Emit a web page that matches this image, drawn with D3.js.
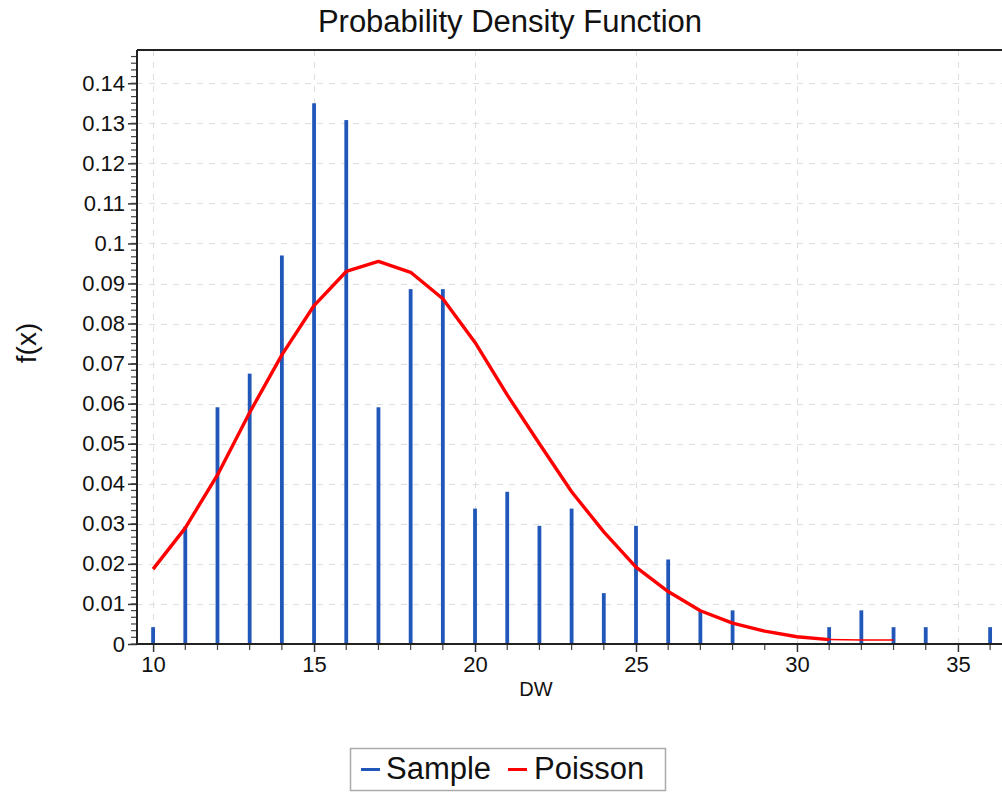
<!DOCTYPE html>
<html>
<head>
<meta charset="utf-8">
<script src="https://cdn.jsdelivr.net/npm/d3@7"></script>
<style>
  html, body { margin: 0; padding: 0; background: #fff; }
  svg { display: block; font-family: "Liberation Sans", Arial, sans-serif; }
</style>
</head>
<body>
<svg id="chart" width="1002" height="792"></svg>
<script>
// Observed relative frequencies of DW (sample) and fitted Poisson density
const sampleX = [10, 11, 12, 13, 14, 15, 16, 17, 18, 19, 20, 21, 22, 23, 24, 25, 26, 27, 28, 31, 32, 33, 34, 36];
const sampleY = [0.0042, 0.0293, 0.0591, 0.0675, 0.0970, 0.1350, 0.1308, 0.0591, 0.0886, 0.0886,
                 0.0338, 0.0380, 0.0295, 0.0338, 0.0127, 0.0295, 0.0211, 0.0084, 0.0084,
                 0.0042, 0.0084, 0.0042, 0.0042, 0.0042];

const poissonX = [10, 11, 12, 13, 14, 15, 16, 17, 18, 19, 20, 21, 22, 23, 24, 25, 26, 27, 28, 29, 30, 31, 32, 33];
const poissonY = [0.0187, 0.0290, 0.0422, 0.0578, 0.0722, 0.0845, 0.0930, 0.0955, 0.0928, 0.0862,
                  0.0753, 0.0622, 0.0500, 0.0380, 0.0280, 0.0192, 0.0131, 0.0083, 0.0052, 0.0032,
                  0.0018, 0.0011, 0.0010, 0.0010];

const xMajorTicks = [10, 15, 20, 25, 30, 35];
const yMajorTicks = [0, 0.01, 0.02, 0.03, 0.04, 0.05, 0.06, 0.07, 0.08, 0.09, 0.10, 0.11, 0.12, 0.13, 0.14];

const titleText = "Probability Density Function";
const xTitle = "DW";
const yTitle = "f(x)";
const legendItems = [
  { name: "Sample", color: "#2157b8" },
  { name: "Poisson", color: "#ff0000" }
];

const svg = d3.select("#chart");
const plot = { left: 137, right: 1003, top: 50, bottom: 644 };

const x = d3.scaleLinear().domain([9.5, 36.4]).range([plot.left, plot.right]);
const y = d3.scaleLinear().domain([0, 0.1483]).range([plot.bottom, plot.top]);

const fmtY = v => String(+v.toFixed(2));

// dashed grid
const grid = svg.append("g").attr("stroke", "#dedede").attr("stroke-width", 1)
  .attr("stroke-dasharray", "6,6");
grid.selectAll("line.h").data(yMajorTicks.filter(v => v > 0)).join("line")
  .attr("class", "h")
  .attr("x1", plot.left).attr("x2", plot.right)
  .attr("y1", d => Math.round(y(d)) + 0.5).attr("y2", d => Math.round(y(d)) + 0.5);
grid.selectAll("line.v").data(xMajorTicks).join("line")
  .attr("class", "v")
  .attr("y1", plot.top).attr("y2", plot.bottom)
  .attr("x1", d => Math.round(x(d)) + 0.5).attr("x2", d => Math.round(x(d)) + 0.5);

// sample bars
svg.append("g").selectAll("rect").data(sampleX.map((k, i) => [k, sampleY[i]])).join("rect")
  .attr("x", d => x(d[0]) - 1.9)
  .attr("width", 3.8)
  .attr("y", d => y(d[1]))
  .attr("height", d => y(0) - y(d[1]) - 1)
  .attr("fill", legendItems[0].color);

// Poisson line: heavy stroke over the main body, hairline across the flat tail
const poissonPts = poissonX.map((k, i) => [k, poissonY[i]]);
const tailStart = poissonX.indexOf(31);
const line = d3.line().x(d => x(d[0])).y(d => y(d[1]));
svg.append("path")
  .datum(poissonPts.slice(tailStart))
  .attr("d", line)
  .attr("fill", "none")
  .attr("stroke", legendItems[1].color)
  .attr("stroke-width", 1.5);
svg.append("path")
  .datum(poissonPts.slice(0, tailStart + 1))
  .attr("d", line)
  .attr("fill", "none")
  .attr("stroke", legendItems[1].color)
  .attr("stroke-width", 3.4)
  .attr("stroke-linejoin", "round");

// Y axis with minor ticks
const yMinor = d3.range(0, 89).map(i => i * 0.01 / 6).filter(v => v <= 0.1483);
const yAxis = d3.axisLeft(y).tickValues(yMajorTicks).tickFormat(fmtY).tickSize(9).tickPadding(3);
const yAxisG = svg.append("g").attr("transform", `translate(${plot.left},0)`).call(yAxis);
yAxisG.select(".domain").remove();
yAxisG.selectAll(".tick line").attr("stroke", "#333").attr("stroke-width", 1.5);
yAxisG.selectAll(".tick text").attr("font-size", 22).attr("fill", "#111")
  .attr("font-family", "Liberation Sans, Arial, sans-serif");
svg.append("g").selectAll("line").data(yMinor).join("line")
  .attr("x1", plot.left - 6).attr("x2", plot.left)
  .attr("y1", d => y(d)).attr("y2", d => y(d))
  .attr("stroke", "#444").attr("stroke-width", 1.2);

// X axis with minor ticks
const xAxis = d3.axisBottom(x).tickValues(xMajorTicks).tickFormat(d3.format("d")).tickSize(8).tickPadding(4);
const xAxisG = svg.append("g").attr("transform", `translate(0,${plot.bottom})`).call(xAxis);
xAxisG.select(".domain").remove();
xAxisG.selectAll(".tick line").attr("stroke", "#333").attr("stroke-width", 1.5);
xAxisG.selectAll(".tick text").attr("font-size", 22).attr("fill", "#111")
  .attr("font-family", "Liberation Sans, Arial, sans-serif");
svg.append("g").selectAll("line").data(d3.range(10, 37).filter(v => v % 5 !== 0)).join("line")
  .attr("x1", d => x(d)).attr("x2", d => x(d))
  .attr("y1", plot.bottom).attr("y2", plot.bottom + 6)
  .attr("stroke", "#444").attr("stroke-width", 1.2);

// frame: left, top and bottom edges
const frame = svg.append("g").attr("stroke", "#222").attr("stroke-width", 2).attr("fill", "none");
frame.append("line").attr("x1", plot.left).attr("x2", plot.left).attr("y1", plot.top).attr("y2", plot.bottom + 1);
frame.append("line").attr("x1", plot.left).attr("x2", plot.right).attr("y1", plot.top).attr("y2", plot.top);
frame.append("line").attr("x1", plot.left).attr("x2", plot.right).attr("y1", plot.bottom).attr("y2", plot.bottom);

// titles
svg.append("text").attr("x", 510).attr("y", 32).attr("text-anchor", "middle")
  .attr("font-size", 31).attr("fill", "#111").text(titleText);
svg.append("text").attr("x", 536).attr("y", 696).attr("text-anchor", "middle")
  .attr("font-size", 20).attr("fill", "#111").text(xTitle);
svg.append("text").attr("transform", "translate(36,343) rotate(-90)").attr("text-anchor", "middle")
  .attr("font-size", 28).attr("fill", "#111").text(yTitle);

// legend
const lg = svg.append("g");
lg.append("rect").attr("x", 350.5).attr("y", 748.5).attr("width", 315).attr("height", 42)
  .attr("fill", "#fff").attr("stroke", "#aaa").attr("stroke-width", 1.5);
const legendPos = [{ lx: 361, tx: 386 }, { lx: 508, tx: 534 }];
legendItems.forEach((it, i) => {
  lg.append("line").attr("x1", legendPos[i].lx).attr("x2", legendPos[i].lx + 19)
    .attr("y1", 769.5).attr("y2", 769.5).attr("stroke", it.color).attr("stroke-width", 3);
  lg.append("text").attr("x", legendPos[i].tx).attr("y", 779).attr("font-size", 31)
    .attr("fill", "#111").text(it.name);
});
</script>
</body>
</html>
